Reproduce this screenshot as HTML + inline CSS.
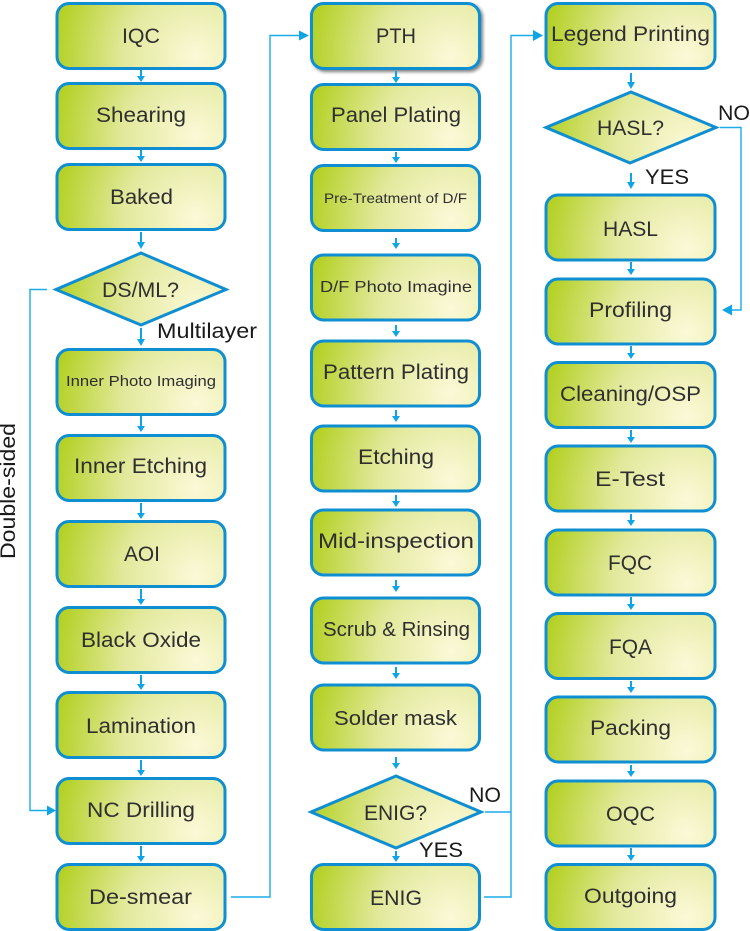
<!DOCTYPE html>
<html><head><meta charset="utf-8"><style>
html,body{margin:0;padding:0;background:#fff;width:750px;height:931px;overflow:hidden}
svg{display:block}
text{font-family:"Liberation Sans",sans-serif;fill:#2f2f2f;font-size:21px}
.n{fill:url(#g);stroke:#0f8fd2;stroke-width:3}
.c{fill:none;stroke:#1bace8;stroke-width:1.4}
.s{stroke:#0fa4e6;stroke-width:2;fill:none}
.h{fill:#0fa4e6}
</style></head><body>
<svg width="750" height="931" viewBox="0 0 750 931" xmlns="http://www.w3.org/2000/svg">
<defs>
<radialGradient id="g" cx="0.83" cy="0.82" r="1" gradientTransform="translate(.83 .82) scale(.86 2.25) translate(-.83 -.82)"><stop offset="0" stop-color="#fcf9d8"/><stop offset="0.5" stop-color="#e2e99c"/><stop offset="1" stop-color="#b2d020"/></radialGradient>
<filter id="sh" x="-10%" y="-10%" width="125%" height="130%"><feDropShadow dx="2" dy="2" stdDeviation="1.6" flood-color="#000" flood-opacity="0.5"/></filter>
</defs>

<!-- column 1 -->
<rect class="n" x="57" y="3.500" width="168" height="65" rx="12"/>
<rect class="n" x="57" y="83.500" width="168" height="65" rx="12"/>
<rect class="n" x="57" y="164.500" width="168" height="65" rx="12"/>
<polygon class="n" points="141,253 226,289.500 141,325 56,289.500"/>
<rect class="n" x="57" y="349.500" width="168" height="65" rx="12"/>
<rect class="n" x="57" y="435.500" width="168" height="65" rx="12"/>
<rect class="n" x="57" y="521.500" width="168" height="65" rx="12"/>
<rect class="n" x="57" y="607.500" width="168" height="65" rx="12"/>
<rect class="n" x="57" y="692.500" width="168" height="65" rx="12"/>
<rect class="n" x="57" y="778.500" width="168" height="65" rx="12"/>
<rect class="n" x="57" y="864.500" width="168" height="65" rx="12"/>

<!-- column 2 -->
<rect class="n" x="311.500" y="3.500" width="168" height="65" rx="12" filter="url(#sh)"/>
<rect class="n" x="311.500" y="84.500" width="168" height="65" rx="12"/>
<rect class="n" x="311.500" y="165.500" width="168" height="65" rx="12"/>
<rect class="n" x="311.500" y="255" width="168" height="65" rx="12"/>
<rect class="n" x="311.500" y="341" width="168" height="65" rx="12"/>
<rect class="n" x="311.500" y="426" width="168" height="65" rx="12"/>
<rect class="n" x="311.500" y="510" width="168" height="65" rx="12"/>
<rect class="n" x="311.500" y="598" width="168" height="65" rx="12"/>
<rect class="n" x="311.500" y="685" width="168" height="65" rx="12"/>
<polygon class="n" points="396,776 481,812 396,848 311,812"/>
<rect class="n" x="311.500" y="864.500" width="168" height="65" rx="12"/>

<!-- column 3 -->
<rect class="n" x="546" y="3.500" width="169" height="65" rx="12"/>
<polygon class="n" points="631,92 716,127.500 630,163 546,127.500"/>
<rect class="n" x="546" y="195" width="169" height="65" rx="12"/>
<rect class="n" x="546" y="279" width="169" height="65" rx="12"/>
<rect class="n" x="546" y="362.500" width="169" height="65" rx="12"/>
<rect class="n" x="546" y="446" width="169" height="65" rx="12"/>
<rect class="n" x="546" y="530" width="169" height="65" rx="12"/>
<rect class="n" x="546" y="613.500" width="169" height="65" rx="12"/>
<rect class="n" x="546" y="697" width="169" height="65" rx="12"/>
<rect class="n" x="546" y="781" width="169" height="65" rx="12"/>
<rect class="n" x="546" y="864.500" width="169" height="65" rx="12"/>

<!-- short down arrows -->
<path class="s" d="M141 70V77M141 150V157M141 232V243M141 328V340M141 416V427M141 503V514M141 589V600M141 675V685M141 760V771M141 846V857"/>
<path class="h" d="M137 76h8l-4 6zM137 156h8l-4 6zM137 242h8l-4 7zM137 339h8l-4 7zM137 426h8l-4 6zM137 513h8l-4 6zM137 599h8l-4 6zM137 684h8l-4 6zM137 770h8l-4 6zM137 856h8l-4 6z"/>
<path class="s" d="M396 71V78M396 152V158M396 238V244M396 325V332M396 410V417M396 495V502M396 580V587M396 667V674M396 757V764M396 851V857"/>
<path class="h" d="M392 77h8l-4 6zM392 157h8l-4 6zM392 243h8l-4 6zM392 331h8l-4 6zM392 416h8l-4 6zM392 501h8l-4 6zM392 586h8l-4 6zM392 673h8l-4 6zM392 763h8l-4 6zM392 856h8l-4 6z"/>
<path class="s" d="M631 73V83M631 173V183M631 262V270M631 346V354M631 430V438M631 514V521M631 597V605M631 681V688M631 765V772M631 848V856"/>
<path class="h" d="M627 82h8l-4 7zM627 182h8l-4 7zM627 269h8l-4 6zM627 353h8l-4 6zM627 437h8l-4 6zM627 520h8l-4 6zM627 604h8l-4 6zM627 687h8l-4 6zM627 771h8l-4 6zM627 855h8l-4 6z"/>

<!-- long connectors -->
<path class="c" d="M47 289.500H30V810.500H50"/>
<path class="h" d="M47 805.500l9 5 -9 5z"/>
<path class="c" d="M231 897H270V35.500H302"/>
<path class="h" d="M299 30.500l10 5 -10 5z"/>
<path class="c" d="M484 897H511V35.500H536M485 812H511"/>
<path class="h" d="M533 30l10 5.500 -10 5.500z"/>
<path class="c" d="M720 127.500H741V310H730"/>
<path class="h" d="M732 304.500l-10 5.500 10 5.500z"/>

<!-- column 1 labels -->
<text x="122" y="43" textLength="38" lengthAdjust="spacingAndGlyphs">IQC</text>
<text x="96" y="122" textLength="90" lengthAdjust="spacingAndGlyphs">Shearing</text>
<text x="110" y="204" textLength="63" lengthAdjust="spacingAndGlyphs">Baked</text>
<text x="102" y="297" textLength="77" lengthAdjust="spacingAndGlyphs">DS/ML?</text>
<text x="66" y="386" style="font-size:15px" textLength="150" lengthAdjust="spacingAndGlyphs">Inner Photo Imaging</text>
<text x="74" y="473" textLength="133" lengthAdjust="spacingAndGlyphs">Inner Etching</text>
<text x="124" y="561" textLength="36" lengthAdjust="spacingAndGlyphs">AOI</text>
<text x="81" y="647" textLength="120" lengthAdjust="spacingAndGlyphs">Black Oxide</text>
<text x="86" y="733" textLength="110" lengthAdjust="spacingAndGlyphs">Lamination</text>
<text x="87" y="817" textLength="108" lengthAdjust="spacingAndGlyphs">NC Drilling</text>
<text x="89" y="904" textLength="103" lengthAdjust="spacingAndGlyphs">De-smear</text>

<!-- column 2 labels -->
<text x="376" y="43" textLength="40" lengthAdjust="spacingAndGlyphs">PTH</text>
<text x="331" y="122" textLength="130" lengthAdjust="spacingAndGlyphs">Panel Plating</text>
<text x="324" y="203" style="font-size:14px" textLength="143" lengthAdjust="spacingAndGlyphs">Pre-Treatment of D/F</text>
<text x="320" y="292" style="font-size:16px" textLength="152" lengthAdjust="spacingAndGlyphs">D/F Photo Imagine</text>
<text x="323" y="379" textLength="146" lengthAdjust="spacingAndGlyphs">Pattern Plating</text>
<text x="358" y="464" textLength="76" lengthAdjust="spacingAndGlyphs">Etching</text>
<text x="318" y="548" textLength="156" lengthAdjust="spacingAndGlyphs">Mid-inspection</text>
<text x="323" y="636" style="font-size:20px" textLength="147" lengthAdjust="spacingAndGlyphs">Scrub &amp; Rinsing</text>
<text x="334" y="725" style="font-size:20px" textLength="123" lengthAdjust="spacingAndGlyphs">Solder mask</text>
<text x="364" y="820" textLength="63" lengthAdjust="spacingAndGlyphs">ENIG?</text>
<text x="370" y="905" textLength="52" lengthAdjust="spacingAndGlyphs">ENIG</text>

<!-- column 3 labels -->
<text x="551" y="41" textLength="159" lengthAdjust="spacingAndGlyphs">Legend Printing</text>
<text x="597" y="135" textLength="67" lengthAdjust="spacingAndGlyphs">HASL?</text>
<text x="603" y="236" textLength="55" lengthAdjust="spacingAndGlyphs">HASL</text>
<text x="589" y="317" textLength="83" lengthAdjust="spacingAndGlyphs">Profiling</text>
<text x="560" y="401" textLength="141" lengthAdjust="spacingAndGlyphs">Cleaning/OSP</text>
<text x="595" y="486" textLength="70" lengthAdjust="spacingAndGlyphs">E-Test</text>
<text x="608" y="570" textLength="44" lengthAdjust="spacingAndGlyphs">FQC</text>
<text x="609" y="654" textLength="43" lengthAdjust="spacingAndGlyphs">FQA</text>
<text x="590" y="735" textLength="81" lengthAdjust="spacingAndGlyphs">Packing</text>
<text x="606" y="821" textLength="49" lengthAdjust="spacingAndGlyphs">OQC</text>
<text x="584" y="903" textLength="93" lengthAdjust="spacingAndGlyphs">Outgoing</text>

<!-- branch labels -->
<text x="157" y="338" style="fill:#1a1a1a" textLength="100" lengthAdjust="spacingAndGlyphs">Multilayer</text>
<text transform="translate(15,559) rotate(-90)" style="fill:#1a1a1a" textLength="136" lengthAdjust="spacingAndGlyphs">Double-sided</text>
<text x="718" y="120" style="fill:#1a1a1a" textLength="32" lengthAdjust="spacingAndGlyphs">NO</text>
<text x="645" y="184" style="fill:#1a1a1a" textLength="44" lengthAdjust="spacingAndGlyphs">YES</text>
<text x="469" y="802" style="fill:#1a1a1a" textLength="32" lengthAdjust="spacingAndGlyphs">NO</text>
<text x="419" y="857" style="fill:#1a1a1a" textLength="44" lengthAdjust="spacingAndGlyphs">YES</text>
</svg>
</body></html>
